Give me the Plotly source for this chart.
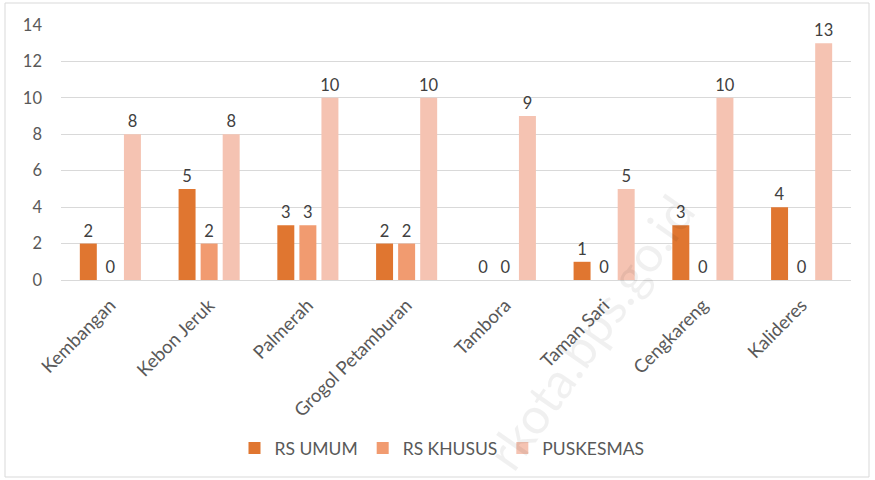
import plotly.graph_objects as go

categories = ["Kembangan", "Kebon Jeruk", "Palmerah", "Grogol Petamburan",
              "Tambora", "Taman Sari", "Cengkareng", "Kalideres"]
rs_umum = [2, 5, 3, 2, 0, 1, 3, 4]
rs_khusus = [0, 2, 3, 2, 0, 0, 0, 0]
puskesmas = [8, 8, 10, 10, 9, 5, 10, 13]
series_names = ["RS UMUM", "RS KHUSUS", "PUSKESMAS"]
colors = ["#E07630", "#F19B70", "#F5C3B2"]
y_ticks = [0, 2, 4, 6, 8, 10, 12, 14]

FONT = "Lato, 'Open Sans', sans-serif"
fig = go.Figure()
for name, vals, col in zip(series_names, [rs_umum, rs_khusus, puskesmas], colors):
    fig.add_trace(go.Bar(
        x=categories, y=vals, name=name, marker=dict(color=col, line=dict(width=0)),
        text=[str(v) for v in vals], textposition="outside", cliponaxis=False,
        constraintext="none",
        textfont=dict(size=16.5, color="#404040", family=FONT),
    ))

W, H = 875, 480
ml, mr, mt, mb = 61, 24, 25, 200
pw, ph = W - ml - mr, H - mt - mb
def px(x): return (x - ml) / pw
def py(y): return (H - mb - y) / ph

fig.update_layout(
    width=W, height=H, barmode="group", bargap=0.33, bargroupgap=0.23,
    margin=dict(l=ml, r=mr, t=mt, b=mb, autoexpand=False),
    paper_bgcolor="white", plot_bgcolor="white",
    font=dict(family=FONT, color="#595959", size=14),
    xaxis=dict(tickangle=-45, tickfont=dict(size=18.5, color="#595959"), showgrid=False,
               showline=False, ticks="", automargin=False, ticklabelstandoff=10),
    yaxis=dict(range=[0, 14], tickvals=y_ticks, showgrid=True, gridcolor="#D9D9D9",
               gridwidth=1, zeroline=True, zerolinecolor="#D9D9D9", zerolinewidth=1,
               tickfont=dict(size=16.5, color="#595959"), ticks="", ticklen=0,
               ticklabelstandoff=18, automargin=False),
    legend=dict(orientation="h", x=px(442), xanchor="center", y=py(448), yanchor="middle",
                font=dict(size=17.5, color="#595959"), itemwidth=30, traceorder="normal"),
    shapes=[dict(type="rect", xref="paper", yref="paper",
                 x0=px(5), x1=px(869), y0=py(477), y1=py(3),
                 line=dict(color="#D9D9D9", width=1), fillcolor="rgba(0,0,0,0)")],
    annotations=[dict(text="rkota.bps.go.id", xref="paper", yref="paper",
                      x=px(590), y=py(332), xanchor="center", yanchor="middle",
                      showarrow=False, textangle=-55,
                      font=dict(size=50, color="rgba(0,0,0,0.06)", family=FONT))],
)
fig.write_html("out.html", config={"displayModeBar": False},
               post_script="document.body.style.margin='0';")
